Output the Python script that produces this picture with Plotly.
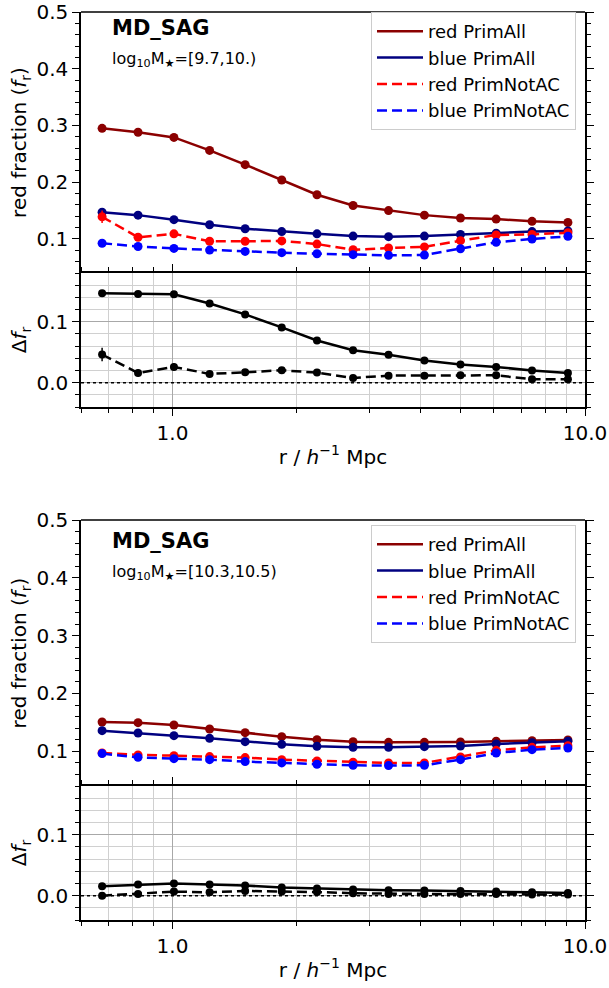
import math
import plotly.graph_objects as go
from plotly.subplots import make_subplots

# ---------------- data ----------------
r = [0.675, 0.825, 1.008, 1.23, 1.50, 1.84, 2.24, 2.74, 3.34, 4.08, 4.99, 6.09, 7.44, 9.09]

# panel A : log10 M* = [9.7,10.)
a_red_all = [0.295, 0.288, 0.279, 0.256, 0.231, 0.204, 0.178, 0.159, 0.150, 0.142, 0.137, 0.135, 0.131, 0.129]
a_blue_all = [0.147, 0.142, 0.134, 0.125, 0.118, 0.113, 0.109, 0.105, 0.104, 0.105, 0.108, 0.110, 0.113, 0.114]
a_red_nac = [0.139, 0.103, 0.109, 0.096, 0.096, 0.0965, 0.091, 0.081, 0.084, 0.086, 0.097, 0.107, 0.108, 0.111]
a_red_nac_err = [0.011, 0.006, 0.007, 0.004, 0.004, 0.004, 0.003, 0.003, 0.003, 0.003, 0.003, 0.003, 0.003, 0.003]
a_blue_nac = [0.0925, 0.0867, 0.0833, 0.0804, 0.078, 0.0758, 0.074, 0.0723, 0.0711, 0.0717, 0.0827, 0.0942, 0.100, 0.1046]
a_blue_nac_err = [0.002, 0.002, 0.002, 0.002, 0.002, 0.002, 0.002, 0.002, 0.002, 0.002, 0.002, 0.002, 0.002, 0.002]
a_d_all = [0.1467, 0.1456, 0.145, 0.130, 0.112, 0.0907, 0.0692, 0.0533, 0.0456, 0.0363, 0.0297, 0.0258, 0.0198, 0.0159]
a_d_nac = [0.0462, 0.0159, 0.0258, 0.0143, 0.017, 0.0203, 0.0165, 0.0077, 0.0115, 0.0115, 0.012, 0.012, 0.0055, 0.0055]
a_d_nac_err = [0.011, 0.006, 0.006, 0.004, 0.004, 0.003, 0.003, 0.003, 0.003, 0.003, 0.003, 0.003, 0.003, 0.003]

# panel B : log10 M* = [10.3,10.5)
b_red_all = [0.1506, 0.1495, 0.1455, 0.1386, 0.1322, 0.1253, 0.1201, 0.1167, 0.1155, 0.1155, 0.1161, 0.1173, 0.1184, 0.1196]
b_blue_all = [0.1357, 0.1317, 0.127, 0.1224, 0.1167, 0.1121, 0.1086, 0.1069, 0.1069, 0.108, 0.1092, 0.1127, 0.115, 0.1173]
b_red_nac = [0.0971, 0.0937, 0.0925, 0.0908, 0.0891, 0.0856, 0.0833, 0.081, 0.0799, 0.0799, 0.0902, 0.1017, 0.1069, 0.1098]
b_red_nac_err = [0.002] * 14
b_blue_nac = [0.096, 0.0896, 0.0873, 0.0856, 0.0822, 0.0799, 0.0776, 0.0758, 0.0753, 0.0758, 0.0856, 0.0971, 0.1029, 0.1058]
b_blue_nac_err = [0.002] * 14
b_d_all = [0.0155, 0.0182, 0.0199, 0.0182, 0.0166, 0.0133, 0.0116, 0.0099, 0.0088, 0.0083, 0.0077, 0.0066, 0.0055, 0.0044]
b_d_nac = [0.0, 0.0028, 0.0066, 0.0055, 0.0077, 0.0066, 0.006, 0.0039, 0.0028, 0.0028, 0.0028, 0.0028, 0.0017, 0.0017]
b_d_nac_err = [0.002] * 14

labels = ["red PrimAll", "blue PrimAll", "red PrimNotAC", "blue PrimNotAC"]
colors = ["#8B0000", "#000080", "#FF0000", "#0000FF"]
mass_labels = ["log<sub>10</sub>M<sub>★</sub>=[9.7,10.)", "log<sub>10</sub>M<sub>★</sub>=[10.3,10.5)"]

FONT = "DejaVu Sans"
DASH = "10px,5px"

fig = make_subplots(rows=4, cols=1)


def add_fraction(row, legend, series, errs):
    dashes = ["solid", "solid", DASH, DASH]
    for i, y in enumerate(series):
        err = errs[i]
        fig.add_trace(go.Scatter(
            x=r, y=y, mode="lines+markers",
            line=dict(color=colors[i], width=2.5, dash=dashes[i]),
            marker=dict(size=9, color=colors[i]),
            error_y=(dict(type="data", array=err, visible=True, color=colors[i], thickness=1.5, width=0)
                     if err is not None else None),
            showlegend=False, hoverinfo="skip"), row=row, col=1)
    for i in range(4):
        fig.add_trace(go.Scatter(
            x=[None], y=[None], mode="lines", name=labels[i],
            line=dict(color=colors[i], width=2.5, dash=dashes[i]),
            legend=legend, showlegend=True), row=row, col=1)


def add_delta(row, d_all, d_nac, d_nac_err):
    fig.add_trace(go.Scatter(
        x=r, y=d_all, mode="lines+markers",
        line=dict(color="black", width=2.5), marker=dict(size=8, color="black"),
        showlegend=False), row=row, col=1)
    fig.add_trace(go.Scatter(
        x=r, y=d_nac, mode="lines+markers",
        line=dict(color="black", width=2.5, dash=DASH), marker=dict(size=8, color="black"),
        error_y=dict(type="data", array=d_nac_err, visible=True, color="black", thickness=1.5, width=0),
        showlegend=False), row=row, col=1)


add_fraction(1, "legend", [a_red_all, a_blue_all, a_red_nac, a_blue_nac],
             [None, None, a_red_nac_err, a_blue_nac_err])
add_delta(2, a_d_all, a_d_nac, a_d_nac_err)
add_fraction(3, "legend2", [b_red_all, b_blue_all, b_red_nac, b_blue_nac],
             [None, None, b_red_nac_err, b_blue_nac_err])
add_delta(4, b_d_all, b_d_nac, b_d_nac_err)

# ---------------- axes ----------------
minor_x = [0.6, 0.7, 0.8, 0.9, 2, 3, 4, 5, 6, 7, 8, 9]
xrange_ = [math.log10(0.6), 1.0]
xtitle = "r / <i>h</i><sup>−1</sup> Mpc"

def xaxis(delta):
    d = dict(type="log", range=xrange_, linecolor="black", linewidth=1.5, automargin=False,
             ticks="outside", ticklen=7, tickwidth=1.2, tickcolor="black",
             tickmode="array", tickvals=[1, 10], ticktext=["1.0", "10.0"],
             tickfont=dict(size=20, family=FONT, color="black"), ticklabeloverflow="allow",
             zeroline=False, showgrid=delta, gridcolor="#a8a8a8", gridwidth=1,
             minor=dict(tickmode="array", tickvals=minor_x, ticks="outside", ticklen=4,
                        tickwidth=1, tickcolor="black", showgrid=delta, gridcolor="#d0d0d0", gridwidth=1))
    if delta:
        d.update(showline=True, mirror="ticks", showticklabels=True,
                 title=dict(text=xtitle, font=dict(size=20, family=FONT, color="black"), standoff=6))
    else:
        # the shared edge (line and upward ticks) is drawn by the panel below
        d.update(showline=False, showticklabels=False, ticks="",
                 minor=dict(tickmode="array", tickvals=minor_x, ticks="", showgrid=False))
    return d


def yaxis_frac():
    return dict(range=[0.04, 0.5], showline=True, linecolor="black", linewidth=1.5, mirror="ticks",
                automargin=False, ticklabeloverflow="allow",
                ticks="outside", ticklen=7, tickwidth=1.2, tickcolor="black",
                tickmode="array", tickvals=[0.1, 0.2, 0.3, 0.4, 0.5],
                ticktext=["0.1", "0.2", "0.3", "0.4", "0.5"],
                tickfont=dict(size=20, family=FONT, color="black"),
                zeroline=False, showgrid=False,
                minor=dict(dtick=0.02, tick0=0, ticks="outside", ticklen=4, tickwidth=1, tickcolor="black",
                           showgrid=False),
                title=dict(text="red fraction (<i>f</i><sub>r</sub>)",
                           font=dict(size=20, family=FONT, color="black"), standoff=4))


def yaxis_delta():
    return dict(range=[-0.04, 0.18], showline=True, linecolor="black", linewidth=1.5, mirror="ticks",
                automargin=False, ticklabeloverflow="allow",
                ticks="outside", ticklen=7, tickwidth=1.2, tickcolor="black",
                tickmode="array", tickvals=[0.0, 0.1], ticktext=["0.0", "0.1"],
                tickfont=dict(size=20, family=FONT, color="black"),
                zeroline=False, showgrid=True, gridcolor="#a8a8a8", gridwidth=1,
                minor=dict(dtick=0.02, tick0=0, ticks="outside", ticklen=4, tickwidth=1, tickcolor="black",
                           showgrid=True, gridcolor="#d0d0d0", gridwidth=1),
                title=dict(text="Δ<i>f</i><sub>r</sub>",
                           font=dict(size=20, family=FONT, color="black"), standoff=4))


TOP = 8
BOT = 920
H_TOTAL = float(BOT - TOP)
def py(px):
    # paper y-coordinate of a pixel row
    return (BOT - px) / H_TOTAL

def dom(top_px, bot_px):
    return [py(bot_px), py(top_px)]

fig.update_layout(
    xaxis=xaxis(False), xaxis2=xaxis(True), xaxis3=xaxis(False), xaxis4=xaxis(True),
    yaxis=dict(yaxis_frac(), domain=dom(12, 273)),
    yaxis2=dict(yaxis_delta(), domain=dom(273, 407)),
    yaxis3=dict(yaxis_frac(), domain=dom(520, 786)),
    yaxis4=dict(yaxis_delta(), domain=dom(786, 920)),
)

# top frame line of the upper panels
for xa, ya in [("x", "y"), ("x3", "y3")]:
    fig.add_shape(type="line", xref=f"{xa} domain", yref=f"{ya} domain", x0=0, x1=1, y0=1, y1=1,
                  line=dict(color="black", width=1.5))

# dotted zero lines in the delta panels
for row in (2, 4):
    fig.add_hline(y=0, line=dict(color="black", width=1.5, dash="dot"), row=row, col=1)

# text labels
for i, off in enumerate([0, 513]):
    fig.add_annotation(xref="paper", yref="paper", x=0.057, y=py(28 + off),
                       xanchor="left", yanchor="middle", showarrow=False,
                       text="<b>MD_SAG</b>", font=dict(size=21, family=FONT, color="black"))
    fig.add_annotation(xref="paper", yref="paper", x=0.057, y=py(59 + off),
                       xanchor="left", yanchor="middle", showarrow=False,
                       text=mass_labels[i], font=dict(size=16, family=FONT, color="black"))

leg = dict(xanchor="left", yanchor="top", bgcolor="rgba(255,255,255,0.8)",
           bordercolor="#cccccc", borderwidth=1, itemwidth=46,
           font=dict(size=18, family=FONT, color="black"), traceorder="normal")
fig.update_layout(
    legend=dict(leg, x=(371 - 81) / 504, y=py(12)),
    legend2=dict(leg, x=(371 - 81) / 504, y=py(525)),
)

fig.update_layout(
    width=609, height=988,
    margin=dict(l=81, r=24, t=TOP, b=988 - BOT, autoexpand=False),
    paper_bgcolor="white", plot_bgcolor="white",
    font=dict(family=FONT, color="black"),
)

fig.write_html("out.html")
